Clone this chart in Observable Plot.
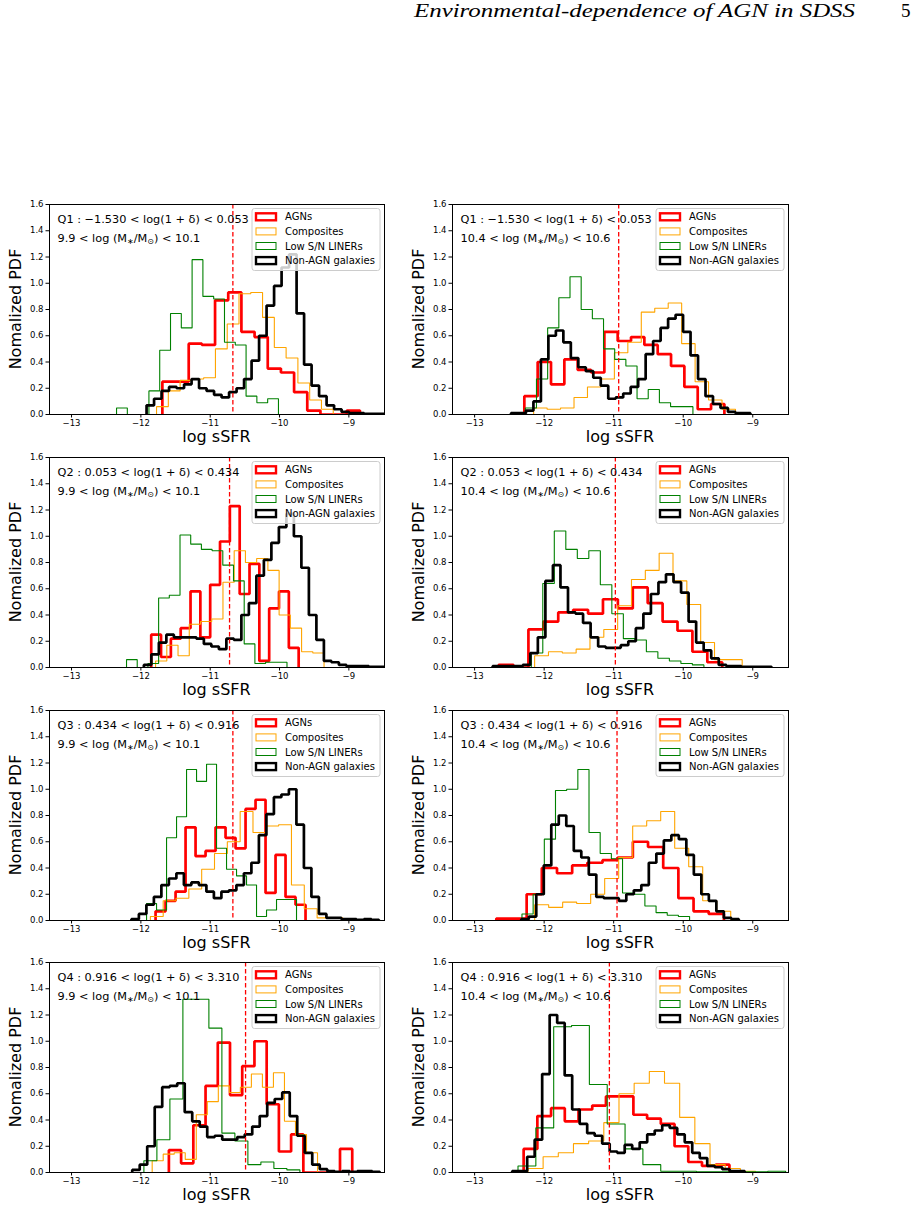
<!DOCTYPE html>
<html>
<head>
<meta charset="utf-8">
<script src="https://cdn.jsdelivr.net/npm/d3@7"></script>
<script src="https://cdn.jsdelivr.net/npm/@observablehq/plot@0.6"></script>
<style>
  body { margin: 0; background: #fff; }
  #root { position: relative; width: 917px; height: 1216px; background: #fff; overflow: hidden; }
  .panel { position: absolute; }
  .panel svg { overflow: visible; }
</style>
</head>
<body>
<div id="root"></div>
<script>
// ---------------- data ----------------
const seriesNames = ["AGNs", "Composites", "Low S/N LINERs", "Non-AGN galaxies"];
const xTicks = [-13, -12, -11, -10, -9];
const yTicks = [0, 0.2, 0.4, 0.6, 0.8, 1.0, 1.2, 1.4, 1.6];
const xLabel = "log sSFR";
const yLabel = "Nomalized PDF";
const densityName = ["Q1", "Q2", "Q3", "Q4"];
const densityLo = ["\u22121.530", "0.053", "0.434", "0.916"];
const densityHi = ["0.053", "0.434", "0.916", "3.310"];
const massLo = ["9.9", "10.4"];
const massHi = ["10.1", "10.6"];
// median sSFR of AGNs (dashed line) per panel, panel order: Q1 low, Q1 high, Q2 low, Q2 high, ...
const medianLine = [-10.673, -10.928, -10.721, -10.976, -10.673, -10.952, -10.490, -11.062];

// each series: first bin edge, bin width, bin heights (order AGN, Composites, LINERs, Non-AGN)
const p1Start = [-11.69, -11.774, -12.351, -11.918];
const p1Width = [0.19, 0.1699, 0.1557, 0.1082];
const p1AGN = [0.25,0.25,0.54,0.53,0.87,0.93,0.63,0.59,0.35,0.32,0.17,0.03,0,0,0.03];
const p1Comp = [0.06,0.18,0.26,0.27,0.28,0.50,0.69,0.92,0.93,0.74,0.51,0.43,0.24,0.11,0.04];
const p1LINER = [0.05,0,0,0.18,0.49,0.77,0.66,1.18,0.90,0.88,0.55,0.53,0.14,0.09,0.12];
const p1NonAGN = [0.07,0.12,0.18,0.21,0.20,0.23,0.27,0.20,0.18,0.15,0.13,0.17,0.20,0.27,0.41,0.60,0.83,0.98,1.12,1.22,0.77,0.38,0.22,0.14,0.07,0.04,0.02,0.01,0.01,0.005,0.005,0.005];

const p2Start = [-12.285, -12.151, -12.271, -12.477];
const p2Width = [0.1918, 0.1935, 0.1607, 0.1076];
const p2AGN = [0.14,0.40,0.23,0.42,0.34,0.32,0.63,0.56,0.59,0.53,0.46,0.37,0.21,0.04,0.08];
const p2Comp = [0.05,0.04,0.05,0.13,0.21,0.27,0.47,0.55,0.78,0.81,0.85,0.54,0.25,0.11,0.04];
const p2LINER = [0.05,0.27,0.66,0.89,1.05,0.80,0.73,0.50,0.42,0.37,0.12,0.19,0.09,0.06,0.06];
const p2NonAGN = [0.01,0.01,0.03,0.10,0.42,0.60,0.64,0.55,0.43,0.36,0.33,0.28,0.22,0.12,0.13,0.16,0.21,0.27,0.46,0.56,0.66,0.73,0.76,0.63,0.45,0.27,0.14,0.08,0.05,0.02,0.01,0.01];

const p3Start = [-11.851, -11.788, -12.207, -11.957];
const p3Width = [0.1418, 0.162, 0.1543, 0.1082];
const p3AGN = [0.25,0.08,0.22,0.30,0.58,0.23,0.63,0.96,1.23,0.56,0.79,0.05,0.45,0.58,0.15];
const p3Comp = [0.05,0.17,0.09,0.33,0.35,0.37,0.65,0.89,0.80,0.83,0.74,0.40,0.30,0.12,0.11];
const p3LINER = [0.06,0,0.03,0.53,0.55,1.01,0.94,0.90,0.89,0.78,0.66,0.18,0.03,0.04,0.04];
const p3NonAGN = [0.02,0.10,0.19,0.25,0.23,0.23,0.23,0.22,0.18,0.16,0.14,0.22,0.21,0.40,0.49,0.70,0.82,0.95,1.07,1.17,1.00,0.76,0.40,0.21,0.05,0.04,0.02,0.01,0.01,0.01,0.005,0.005];

const p4Start = [-12.655, -12.137, -12.185, -12.741];
const p4Width = [0.2144, 0.199, 0.1655, 0.1084];
const p4AGN = [0.02,0,0.29,0.35,0.42,0.44,0.41,0.52,0.45,0.61,0.49,0.35,0.28,0.12,0.04];
const p4Comp = [0.09,0.12,0.11,0.14,0.23,0.29,0.47,0.67,0.74,0.87,0.66,0.48,0.19,0.06,0.06];
const p4LINER = [0.11,0.64,1.04,0.90,0.83,0.89,0.63,0.41,0.22,0.21,0.12,0.07,0.05,0.03,0.02];
const p4NonAGN = [0.01,0.01,0.01,0.01,0.02,0.11,0.23,0.66,0.78,0.61,0.42,0.41,0.34,0.23,0.16,0.15,0.15,0.17,0.20,0.30,0.41,0.56,0.65,0.71,0.65,0.57,0.35,0.19,0.13,0.07,0.02,0.01,0.01,0.005,0.005,0.005,0.005];

const p5Start = [-11.788, -11.863, -11.918, -12.137];
const p5Width = [0.1442, 0.185, 0.1442, 0.1082];
const p5AGN = [0.07,0.15,0.22,0.71,0.49,0.53,0.71,0.63,0.55,0.85,0.92,0.21,0.50,0.18,0.12];
const p5Comp = [0.03,0.15,0.17,0.24,0.39,0.51,0.60,0.83,0.67,0.72,0.73,0.27,0.09,0.02,0.02];
const p5LINER = [0.13,0.08,0.63,0.79,1.15,1.06,1.19,0.55,0.39,0.34,0.27,0.03,0.08,0.16,0.16];
const p5NonAGN = [0.01,0.05,0.12,0.18,0.27,0.32,0.36,0.27,0.29,0.27,0.22,0.17,0.22,0.23,0.27,0.36,0.44,0.65,0.81,0.94,0.96,1.00,0.73,0.40,0.18,0.05,0.02,0.02,0.01,0.01,0.005,0.01,0.005];

const p6Start = [-12.688, -12.338, -12.319, -12.329];
const p6Width = [0.2182, 0.2014, 0.1607, 0.1079];
const p6AGN = [0.015,0.015,0.20,0.40,0.36,0.42,0.44,0.46,0.48,0.60,0.56,0.40,0.17,0.07,0.05];
const p6Comp = [0,0.12,0.10,0.14,0.13,0.20,0.32,0.48,0.72,0.76,0.83,0.55,0.41,0.15,0.07];
const p6LINER = [0.05,0.20,0.62,0.99,1.00,1.15,0.67,0.51,0.47,0.21,0.20,0.11,0.06,0.04,0.03];
const p6NonAGN = [0.01,0.03,0.20,0.42,0.73,0.80,0.72,0.53,0.48,0.35,0.18,0.17,0.17,0.15,0.20,0.23,0.27,0.44,0.51,0.61,0.65,0.62,0.50,0.35,0.20,0.15,0.07,0.02,0.01];

const p7Start = [-11.596, -11.837, -12.519, -12.125];
const p7Width = [0.1763, 0.159, 0.1875, 0.1082];
const p7AGN = [0.17,0.07,0.36,0.66,0.99,0.59,0.81,1.00,0.52,0.16,0.29,0,0,0,0.18];
const p7Comp = [0.09,0.14,0.15,0.10,0.44,0.54,0.66,0.61,0.65,0.75,0.65,0.76,0.39,0.29,0.15];
const p7LINER = [0,0,0,0.09,0.25,0.56,1.32,1.32,1.10,0.30,0.24,0.06,0.08,0.03,0.02];
const p7NonAGN = [0.02,0.06,0.20,0.50,0.65,0.66,0.68,0.46,0.39,0.35,0.27,0.28,0.25,0.25,0.27,0.29,0.35,0.43,0.53,0.56,0.61,0.43,0.28,0.15,0.06,0.025,0.01,0.005,0.01,0.005,0.01,0.01,0.005];

const p8Start = [-12.295, -12.233, -12.376, -12.460];
const p8Width = [0.1973, 0.2182, 0.2566, 0.1079];
const p8AGN = [0.18,0.43,0.49,0.39,0.48,0.51,0.58,0.58,0.44,0.41,0.37,0.20,0.08,0.05,0.06];
const p8Comp = [0.03,0.12,0.15,0.22,0.24,0.38,0.60,0.68,0.77,0.68,0.42,0.22,0.06,0.03,0.01];
const p8LINER = [0.05,0.34,1.11,1.12,0.67,0.37,0.18,0.06,0.01,0.01,0.005,0.005,0.005,0.005,0.01];
const p8NonAGN = [0.01,0.01,0.12,0.25,0.75,1.20,1.14,0.74,0.48,0.37,0.30,0.28,0.22,0.16,0.15,0.21,0.18,0.23,0.29,0.32,0.36,0.34,0.29,0.23,0.15,0.11,0.05,0.04,0.025,0.01,0.01];

// ---------------- styles / layout ----------------
const seriesColor = ["#ff0000", "#ffa500", "#008000", "#000000"];
const seriesLW = [2.7, 1.1, 1.1, 2.7];
const legendLW = [2.4, 1, 1, 2.4];
const xDomain = [-13.318, -8.486];
const frameTops = [204, 457, 710, 962];
const frameH = 210;
const colFrameLeft = [49, 452];
const colFrameW = [335, 336];
const mT = 12, mB = 46, mL = 49, mR = 24;

const panels = [
  {start: p1Start, width: p1Width, h: [p1AGN, p1Comp, p1LINER, p1NonAGN]},
  {start: p2Start, width: p2Width, h: [p2AGN, p2Comp, p2LINER, p2NonAGN]},
  {start: p3Start, width: p3Width, h: [p3AGN, p3Comp, p3LINER, p3NonAGN]},
  {start: p4Start, width: p4Width, h: [p4AGN, p4Comp, p4LINER, p4NonAGN]},
  {start: p5Start, width: p5Width, h: [p5AGN, p5Comp, p5LINER, p5NonAGN]},
  {start: p6Start, width: p6Width, h: [p6AGN, p6Comp, p6LINER, p6NonAGN]},
  {start: p7Start, width: p7Width, h: [p7AGN, p7Comp, p7LINER, p7NonAGN]},
  {start: p8Start, width: p8Width, h: [p8AGN, p8Comp, p8LINER, p8NonAGN]}
];

function stepOutline(start, width, heights) {
  const pts = [{x: start, y: 0}];
  heights.forEach((v, i) => {
    pts.push({x: start + i * width, y: v});
    pts.push({x: start + (i + 1) * width, y: v});
  });
  pts.push({x: start + heights.length * width, y: 0});
  return pts;
}

function legendMark(index, scales, values, dims) {
  const right = dims.width - dims.marginRight;
  const top = dims.marginTop;
  const bw = 128, bh = 62;
  const bx = right - bw - 4, by = top + 4.5;
  const g = d3.create("svg:g").attr("text-anchor", "start");
  g.append("rect").attr("x", bx).attr("y", by).attr("width", bw).attr("height", bh)
    .attr("rx", 2.5).attr("fill", "white").attr("fill-opacity", 0.8)
    .attr("stroke", "#cccccc").attr("stroke-width", 1);
  seriesNames.forEach((name, i) => {
    const cy = by + 8.3 + i * 14.6;
    g.append("rect").attr("x", bx + 4).attr("y", cy - 3.5).attr("width", 20).attr("height", 7)
      .attr("fill", "none").attr("stroke", seriesColor[i]).attr("stroke-width", legendLW[i]);
    g.append("text").attr("x", bx + 33).attr("y", cy).attr("dy", "0.36em")
      .attr("font-size", 10).attr("font-family", "DejaVu Sans").attr("fill", "black").text(name);
  });
  return g.node();
}

function annotationMark(qi, mi) {
  return (index, scales, values, dims) => {
    const x0 = dims.marginLeft + 8.5;
    const top = dims.marginTop;
    const g = d3.create("svg:g").attr("text-anchor", "start")
      .attr("font-family", "DejaVu Sans").attr("font-size", 11.3).attr("fill", "black");
    g.append("text").attr("x", x0).attr("y", top + 15).attr("dy", "0.36em")
      .text(`${densityName[qi]} : ${densityLo[qi]} < log(1 + \u03b4) < ${densityHi[qi]}`);
    const t = g.append("text").attr("x", x0).attr("y", top + 34).attr("dy", "0.36em");
    t.append("tspan").text(`${massLo[mi]} < log (M`);
    t.append("tspan").attr("font-size", 8).attr("dy", "0.25em").text("\u2217");
    t.append("tspan").attr("dy", "-0.18em").text("/M");
    t.append("tspan").attr("font-size", 8).attr("dy", "0.25em").text("\u2299");
    t.append("tspan").attr("dy", "-0.18em").text(`) < ${massHi[mi]}`);
    return g.node();
  };
}

function axisLabelMark(index, scales, values, dims) {
  const left = dims.marginLeft, right = dims.width - dims.marginRight;
  const top = dims.marginTop, bottom = dims.height - dims.marginBottom;
  const g = d3.create("svg:g").attr("font-family", "DejaVu Sans").attr("font-size", 16)
    .attr("fill", "black").attr("text-anchor", "middle");
  g.append("text").attr("x", (left + right) / 2).attr("y", bottom + 22).attr("dy", "0.36em").text(xLabel);
  g.append("text").attr("transform", `translate(${left - 34},${(top + bottom) / 2}) rotate(-90)`)
    .attr("dy", "0.36em").text(yLabel);
  return g.node();
}

const root = document.getElementById("root");

// page header
const header = d3.select(root).append("svg")
  .attr("width", 917).attr("height", 40)
  .style("position", "absolute").style("left", "0px").style("top", "0px");
header.append("text").attr("x", 414).attr("y", 17)
  .attr("font-family", "Liberation Serif, DejaVu Serif, serif").attr("font-style", "italic")
  .attr("font-size", 19).attr("textLength", 441).attr("lengthAdjust", "spacingAndGlyphs")
  .text("Environmental-dependence of AGN in SDSS");
header.append("text").attr("x", 901).attr("y", 17)
  .attr("font-family", "Liberation Serif, DejaVu Serif, serif").attr("font-size", 19)
  .text("5");

panels.forEach((p, k) => {
  const row = Math.floor(k / 2), col = k % 2;
  const qi = row, mi = col;
  const fw = colFrameW[col];
  const marks = [];
  p.h.forEach((hs, s) => {
    marks.push(Plot.line(stepOutline(p.start[s], p.width[s], hs), {
      x: "x", y: "y", stroke: seriesColor[s], strokeWidth: seriesLW[s],
      strokeLinejoin: "miter", strokeLinecap: "butt", clip: true
    }));
  });
  marks.push(Plot.ruleX([medianLine[k]], {stroke: "#ff0000", strokeWidth: 1.3, strokeDasharray: "4.5,2.5"}));
  marks.push(Plot.frame({stroke: "black", strokeWidth: 1}));
  marks.push(Plot.axisX({ticks: xTicks, tickFormat: d => (d < 0 ? "\u2212" : "") + Math.abs(d), tickSize: 3.5, tickPadding: 2, label: null}));
  marks.push(Plot.axisY({ticks: yTicks, tickFormat: d => d.toFixed(1), tickSize: 3.5, tickPadding: 2.5, label: null}));
  marks.push(axisLabelMark);
  marks.push(annotationMark(qi, mi));
  marks.push(legendMark);

  const chart = Plot.plot({
    width: mL + fw + mR,
    height: mT + frameH + mB,
    marginTop: mT, marginBottom: mB, marginLeft: mL, marginRight: mR,
    x: {domain: xDomain},
    y: {domain: [0, 1.6]},
    style: {fontFamily: "DejaVu Sans", fontSize: "8.5px", color: "black", background: "transparent", overflow: "visible"},
    marks
  });
  const div = document.createElement("div");
  div.className = "panel";
  div.style.left = (colFrameLeft[col] - mL) + "px";
  div.style.top = (frameTops[row] - mT) + "px";
  div.appendChild(chart);
  root.appendChild(div);
});
</script>
</body>
</html>
